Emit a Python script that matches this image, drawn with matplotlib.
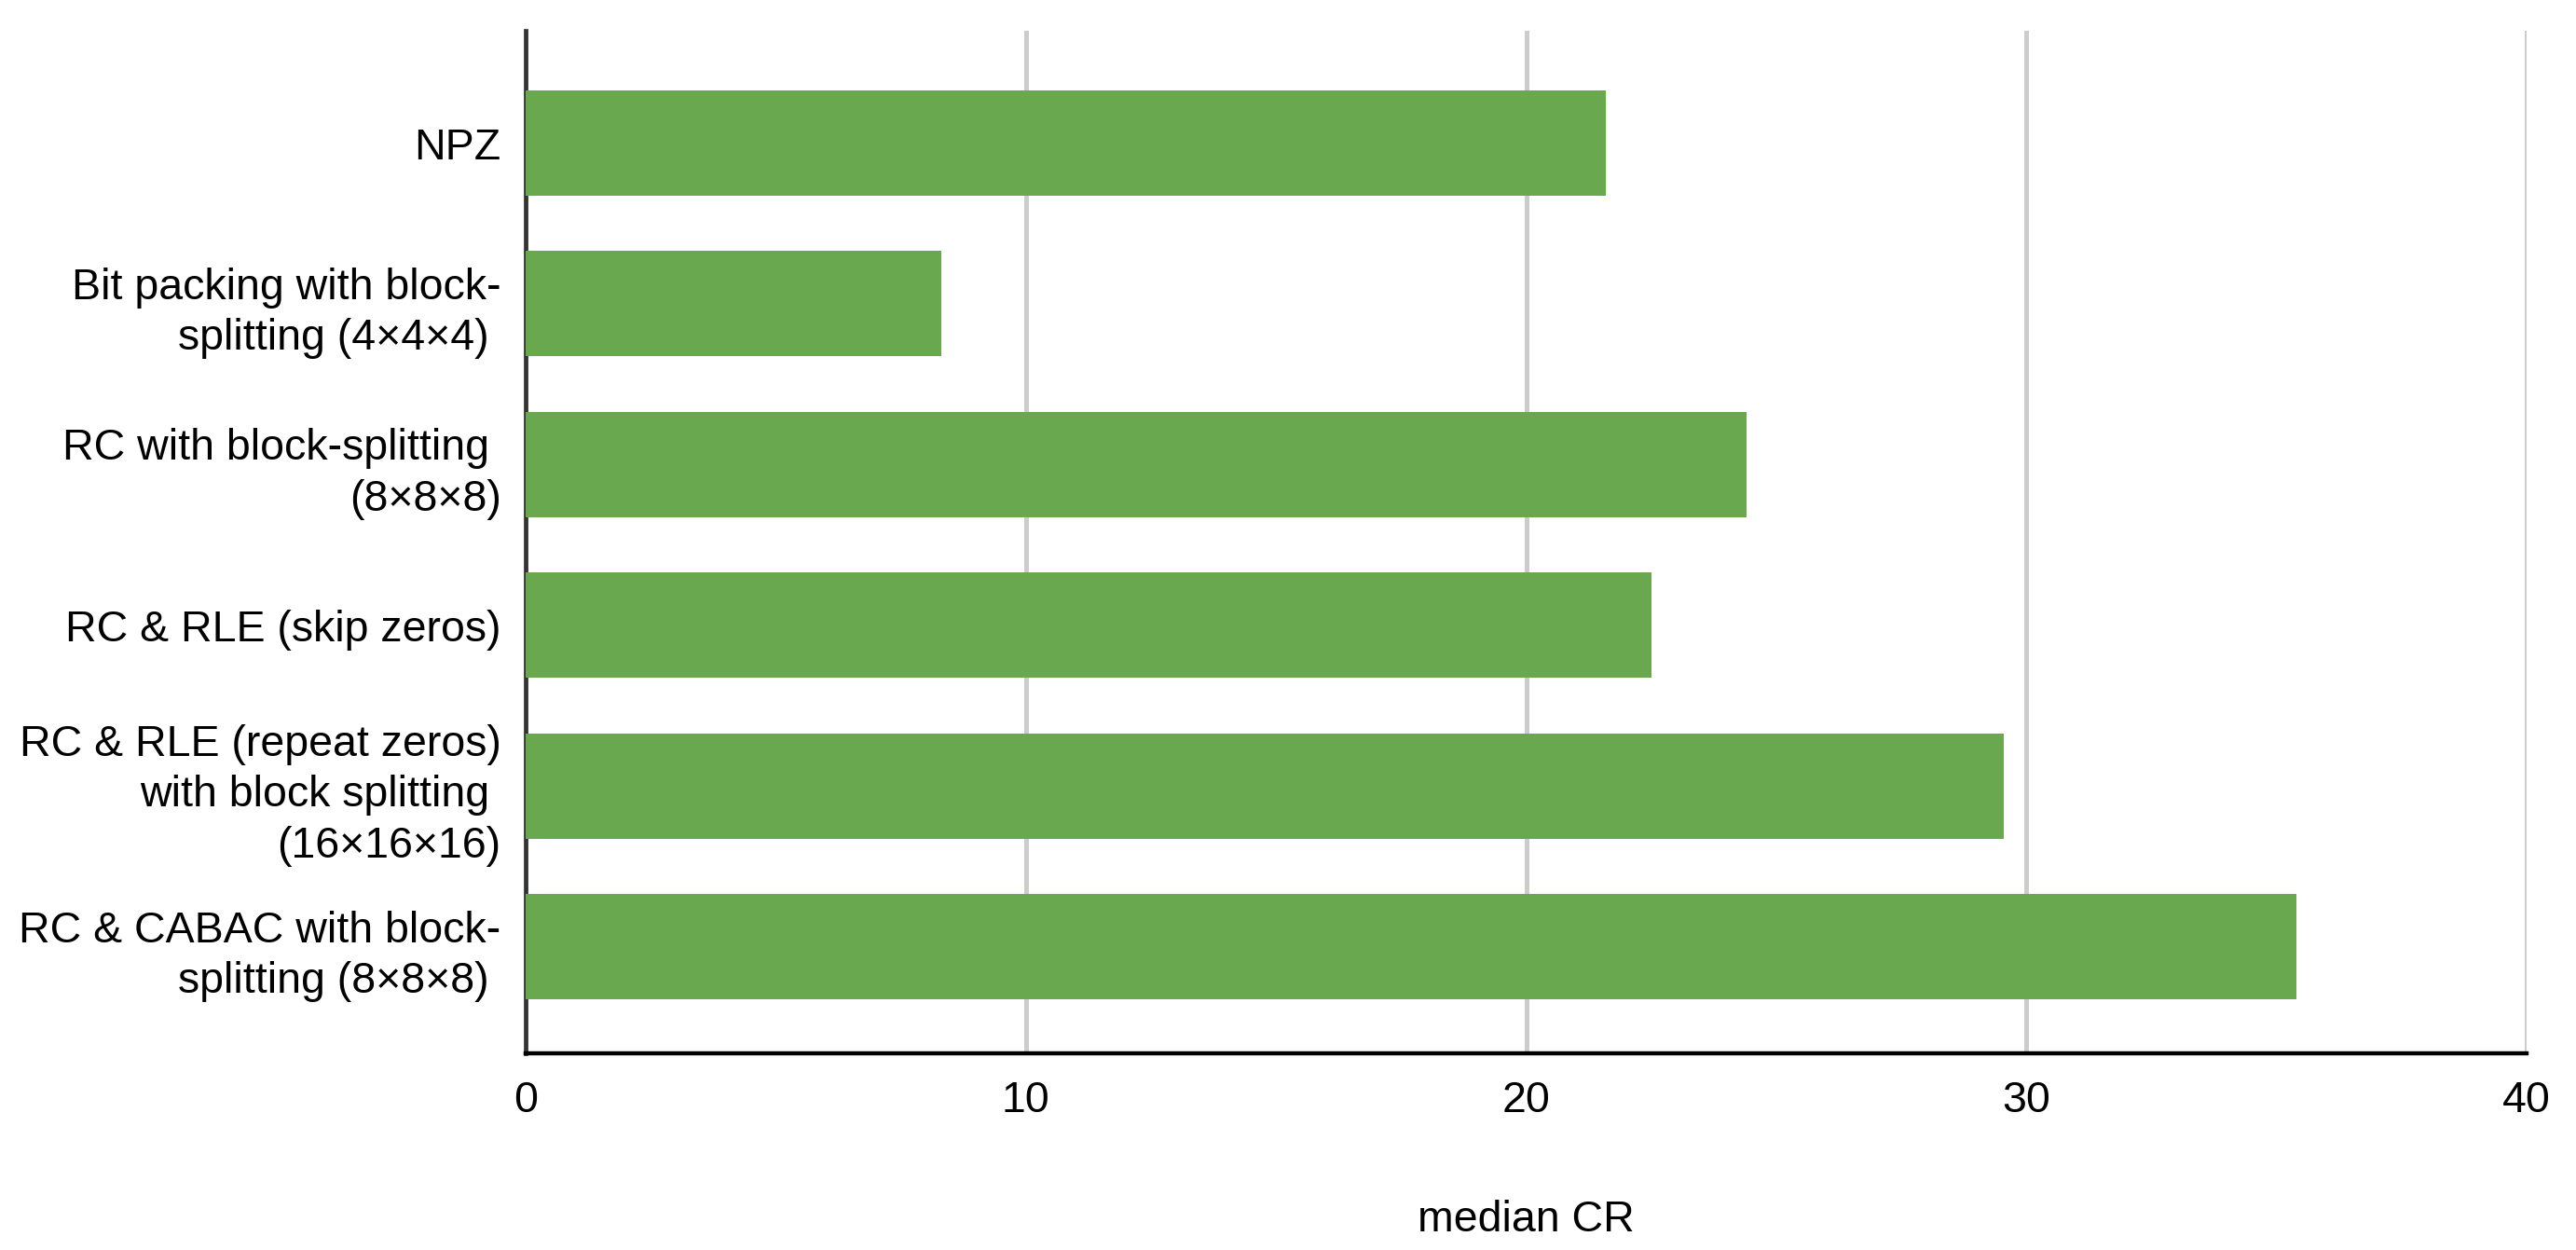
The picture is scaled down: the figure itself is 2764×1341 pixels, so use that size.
import matplotlib.pyplot as plt

categories = [
    'NPZ',
    'Bit packing with block-\nsplitting (4×4×4) ',
    'RC with block-splitting \n(8×8×8)',
    'RC & RLE (skip zeros)',
    'RC & RLE (repeat zeros)\nwith block splitting \n(16×16×16)',
    'RC & CABAC with block-\nsplitting (8×8×8) ',
]
median_cr = [21.6, 8.3, 24.4, 22.5, 29.55, 35.4]
xticks = [0, 10, 20, 30, 40]

plt.rcParams['font.family'] = ['Liberation Sans', 'DejaVu Sans']

fig = plt.figure(figsize=(27.64, 13.41), dpi=100)
ax = fig.add_axes([0.2041, 0.1573, 0.7767, 0.8181])

ypos = list(range(len(categories)))
ax.barh(ypos, median_cr, height=0.655, color='#6aa84f', zorder=3)

ax.set_xlim(0, 40)
ax.set_ylim(5.664, -0.699)
ax.set_xticks(xticks)
ax.set_yticks(ypos)
ax.set_yticklabels(categories, fontsize=33.5, linespacing=1.31)
ax.tick_params(axis='x', length=0, pad=21, labelsize=33.5)
ax.tick_params(axis='y', length=0, pad=19)

ax.grid(axis='x', color='#cccccc', linewidth=3.6, zorder=0)
ax.set_axisbelow(True)

for s in ['top', 'right']:
    ax.spines[s].set_visible(False)
ax.spines['left'].set_color('#333333')
ax.spines['left'].set_linewidth(3.4)
ax.spines['left'].set_zorder(2)
ax.spines['bottom'].set_color('black')
ax.spines['bottom'].set_linewidth(3.2)

ax.set_xlabel('median CR', fontsize=33.5, labelpad=60)

fig.savefig('out.png', dpi=100, facecolor='white')
